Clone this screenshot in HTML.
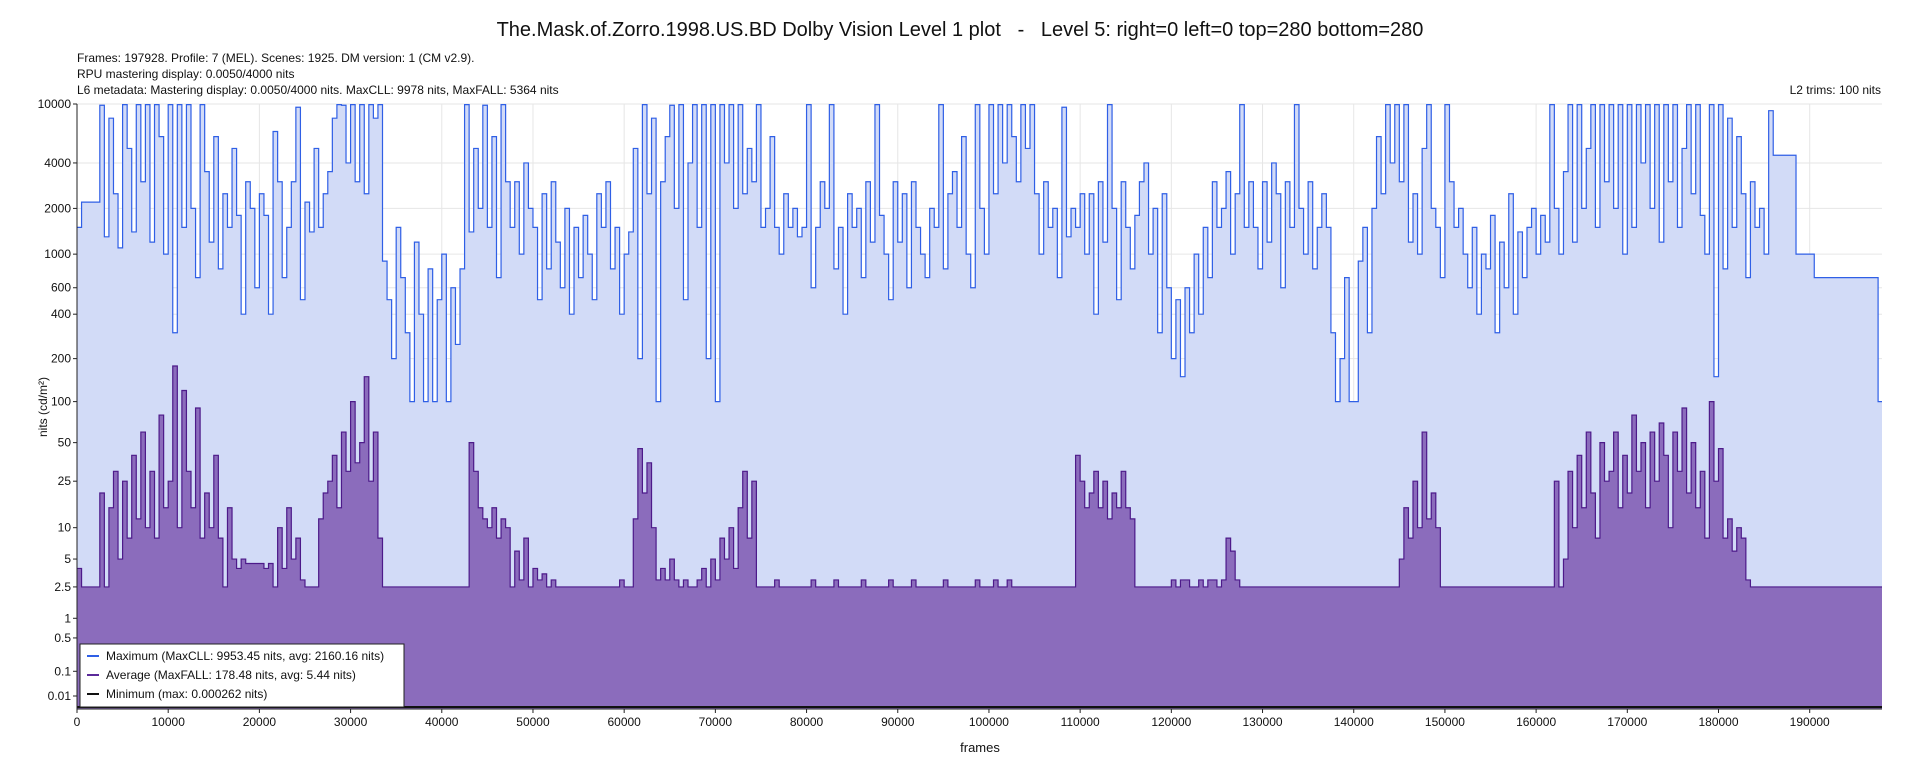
<!DOCTYPE html>
<html><head><meta charset="utf-8">
<style>
body{margin:0;background:#fff;width:1920px;height:768px;overflow:hidden;font-family:"Liberation Sans",Arial,sans-serif}
svg{display:block}
text{font-family:"Liberation Sans",Arial,sans-serif;fill:#111}
</style></head>
<body>
<svg id="chart" width="1920" height="768" viewBox="0 0 1920 768" xmlns="http://www.w3.org/2000/svg">
<text x="960" y="36" text-anchor="middle" font-size="20" style="white-space:pre">The.Mask.of.Zorro.1998.US.BD Dolby Vision Level 1 plot   -   Level 5: right=0 left=0 top=280 bottom=280</text>
<text x="77" y="62" font-size="12">Frames: 197928. Profile: 7 (MEL). Scenes: 1925. DM version: 1 (CM v2.9).</text>
<text x="77" y="78" font-size="12">RPU mastering display: 0.0050/4000 nits</text>
<text x="77" y="94" font-size="12">L6 metadata: Mastering display: 0.0050/4000 nits. MaxCLL: 9978 nits, MaxFALL: 5364 nits</text>
<text x="1881" y="94" font-size="12" text-anchor="end">L2 trims: 100 nits</text>
<g id="plot"></g>
<text transform="translate(47,407) rotate(-90)" text-anchor="middle" font-size="12">nits (cd/m²)</text>
<text x="980" y="752" text-anchor="middle" font-size="13">frames</text>
<g>
<rect x="80" y="644" width="324" height="63" fill="#fff" stroke="#222" stroke-width="1"/>
<line x1="87" y1="656" x2="99" y2="656" stroke="#2f5fe6" stroke-width="2"/>
<text x="106" y="660" font-size="12">Maximum (MaxCLL: 9953.45 nits, avg: 2160.16 nits)</text>
<line x1="87" y1="675" x2="99" y2="675" stroke="#5b2a9a" stroke-width="2"/>
<text x="106" y="679" font-size="12">Average (MaxFALL: 178.48 nits, avg: 5.44 nits)</text>
<line x1="87" y1="694" x2="99" y2="694" stroke="#111" stroke-width="2"/>
<text x="106" y="698" font-size="12">Minimum (max: 0.000262 nits)</text>
</g>
</svg>
<script>
const totalFrames = 197928;
const segmentFrames = 500;
const yTicks = [0.01,0.1,0.5,1,2.5,5,10,25,50,100,200,400,600,1000,2000,4000,10000];
const yTickLabels = ["0.01","0.1","0.5","1","2.5","5","10","25","50","100","200","400","600","1000","2000","4000","10000"];
const xTicks = [0,10000,20000,30000,40000,50000,60000,70000,80000,90000,100000,110000,120000,130000,140000,150000,160000,170000,180000,190000];
const maxVals = [
1500,2200,2200,2200,2200,9800,1300,8000,2500,1100,9900,5000,1400,9900,3000,9900,1200,9900,6000,1000,
9900,300,9900,1500,9900,2000,700,9900,3500,1200,6000,800,2500,1500,5000,1800,400,3000,2000,600,
2500,1800,400,6500,3000,700,1500,3000,9500,500,2200,1400,5000,1500,2500,3500,8000,9900,9800,4000,
9900,3000,9900,2500,9900,8000,9900,900,500,200,1500,700,300,100,1200,400,100,800,100,500,
1000,100,600,250,800,9900,1400,5000,2000,9800,1500,6000,700,9900,3000,1500,3000,1000,4000,2000,
1500,500,2500,800,3000,1200,600,2000,400,1500,700,1800,1000,500,2500,1500,3000,800,1500,400,
1000,1400,5000,200,9900,2500,8000,100,3000,6000,9800,2000,9900,500,4000,9900,1500,9900,200,9900,
100,9900,4000,9900,2000,9900,2500,5000,3000,9900,1500,2000,6000,1500,1000,2500,1500,2000,1300,1500,
9900,600,1500,3000,2000,9900,800,1500,400,2500,1500,2000,700,3000,1200,9900,1800,1000,500,3000,
1200,2500,600,3000,1500,1000,700,2000,1500,9900,800,2500,3500,1500,6000,1000,600,9900,2000,1000,
9900,2500,9900,4000,9900,6000,3000,9900,5000,9900,2500,1000,3000,1500,2000,700,9500,1300,2000,1500,
2500,1000,2500,400,3000,1200,9900,2000,500,3000,1500,800,1800,3000,4000,1000,2000,300,2500,600,
200,500,150,600,300,1000,400,1500,700,3000,1500,2000,3500,1000,2500,9900,1500,3000,1500,800,
3000,1200,4000,2500,600,3000,1500,9900,2000,1000,3000,800,1500,2500,1500,300,100,200,700,100,
100,900,1500,300,2000,6000,2500,9900,4000,9900,3000,9900,1200,2500,1000,5000,9900,2000,1500,700,
9900,3000,1500,2000,1000,600,1500,400,1000,800,1800,300,1200,600,2500,400,1400,700,1500,2000,
1000,1800,1200,9900,2000,1000,3500,9900,1200,9900,2000,5000,9900,1500,9900,3000,9900,2000,9900,1000,
9900,1500,9900,4000,9900,2000,9900,1200,9900,3000,9900,1500,5000,9900,2500,9900,1800,1000,9900,150,
9900,800,8000,1500,6000,2500,700,3000,1500,2000,1000,9000,4500,4500,4500,4500,4500,1000,1000,1000,
1000,700,700,700,700,700,700,700,700,700,700,700,700,700,700,100];
const avgVals = [
4,2.5,2.5,2.5,2.5,20,2.5,15,30,5,25,8,40,12,60,10,30,8,80,15,
25,178,10,120,30,15,90,8,20,10,40,8,2.5,15,5,4,5,4.5,4.5,4.5,
4.5,4,4.5,2.5,10,4,15,5,8,3,2.5,2.5,2.5,12,20,25,40,15,60,30,
100,35,50,150,25,60,8,2.5,2.5,2.5,2.5,2.5,2.5,2.5,2.5,2.5,2.5,2.5,2.5,2.5,
2.5,2.5,2.5,2.5,2.5,2.5,50,30,15,12,10,15,8,12,10,2.5,6,3,8,2.5,
4,3,3.5,2.5,3,2.5,2.5,2.5,2.5,2.5,2.5,2.5,2.5,2.5,2.5,2.5,2.5,2.5,2.5,3,
2.5,2.5,12,45,20,35,10,3,4,3,5,3,2.5,3,2.5,2.5,3,4,2.5,5,
3,8,5,10,4,15,30,8,25,2.5,2.5,2.5,2.5,3,2.5,2.5,2.5,2.5,2.5,2.5,
2.5,3,2.5,2.5,2.5,2.5,3,2.5,2.5,2.5,2.5,2.5,3,2.5,2.5,2.5,2.5,2.5,3,2.5,
2.5,2.5,2.5,3,2.5,2.5,2.5,2.5,2.5,2.5,3,2.5,2.5,2.5,2.5,2.5,2.5,3,2.5,2.5,
2.5,3,2.5,2.5,3,2.5,2.5,2.5,2.5,2.5,2.5,2.5,2.5,2.5,2.5,2.5,2.5,2.5,2.5,40,
25,15,20,30,15,25,12,20,15,30,15,12,2.5,2.5,2.5,2.5,2.5,2.5,2.5,2.5,
3,2.5,3,3,2.5,2.5,3,2.5,3,3,2.5,3,8,6,3,2.5,2.5,2.5,2.5,2.5,
2.5,2.5,2.5,2.5,2.5,2.5,2.5,2.5,2.5,2.5,2.5,2.5,2.5,2.5,2.5,2.5,2.5,2.5,2.5,2.5,
2.5,2.5,2.5,2.5,2.5,2.5,2.5,2.5,2.5,2.5,5,15,8,25,10,60,12,20,10,2.5,
2.5,2.5,2.5,2.5,2.5,2.5,2.5,2.5,2.5,2.5,2.5,2.5,2.5,2.5,2.5,2.5,2.5,2.5,2.5,2.5,
2.5,2.5,2.5,2.5,25,2.5,5,30,10,40,15,60,20,8,50,25,30,60,15,40,
20,80,30,50,15,60,25,70,40,10,60,30,90,20,50,15,30,8,100,25,
45,8,12,6,10,8,3,2.5,2.5,2.5,2.5,2.5,2.5,2.5,2.5,2.5,2.5,2.5,2.5,2.5,
2.5,2.5,2.5,2.5,2.5,2.5,2.5,2.5,2.5,2.5,2.5,2.5,2.5,2.5,2.5,2.5];
const minVals = [0.0001];

const L=77,R=1882,T=104,B=709;
function pq(n){const m1=0.1593017578125,m2=78.84375,c1=0.8359375,c2=18.8515625,c3=18.6875;
 const y=Math.pow(Math.max(n,0)/10000,m1);return Math.pow((c1+c2*y)/(1+c3*y),m2);}
function xs(f){return L+(f/totalFrames)*(R-L);}
function ys(v){return B-pq(v)*(B-T);}
const NS="http://www.w3.org/2000/svg";
const g=document.getElementById('plot');
function mk(tag,attrs){const e=document.createElementNS(NS,tag);for(const k in attrs)e.setAttribute(k,attrs[k]);g.appendChild(e);return e;}

yTicks.forEach((v,i)=>{
 const yy=ys(v);
 const gl=mk('line',{x1:L,x2:R,y1:yy,y2:yy,stroke:'#e6e6e6','stroke-width':1});
 
 
});
xTicks.forEach(f=>{
 const xx=xs(f);
 const gl=mk('line',{x1:xx,x2:xx,y1:T,y2:B,stroke:'#e6e6e6','stroke-width':1});
 
 
});

function stepPath(vals){
 let d='M'+xs(0)+','+ys(vals[0]);
 for(let i=0;i<vals.length;i++){
  const f0=i*segmentFrames,f1=Math.min((i+1)*segmentFrames,totalFrames);
  d+=' L'+xs(f0)+','+ys(vals[i])+' L'+xs(f1)+','+ys(vals[i]);
 }
 return d;
}
const maxLine=stepPath(maxVals);
const maxFill=mk('path',{d:maxLine+' L'+R+','+B+' L'+L+','+B+' Z',fill:'#d2dbf7',stroke:'none'});


const maxPath=mk('path',{d:maxLine,fill:'none',stroke:'#2f5fe6','stroke-width':1.2});



const avgLine=stepPath(avgVals);
const avgFill=mk('path',{d:avgLine+' L'+R+','+B+' L'+L+','+B+' Z',fill:'#8b6cbc',stroke:'none'});


const avgPath=mk('path',{d:avgLine,fill:'none',stroke:'#4d1a8a','stroke-width':1.2});



const minPath=mk('line',{x1:L,x2:R,y1:ys(minVals[0])-1,y2:ys(minVals[0])-1,stroke:'#111','stroke-width':2});



const ax=mk('line',{x1:L,x2:L,y1:T,y2:B,stroke:'#222','stroke-width':1});


const bx=mk('line',{x1:L,x2:R,y1:B,y2:B,stroke:'#222','stroke-width':1});



yTicks.forEach((v,i)=>{
 const yy=ys(v);
 const tk=mk('line',{x1:L-4,x2:L,y1:yy,y2:yy,stroke:'#222'});
 
 
 const t=mk('text',{x:L-6,y:yy+4,'text-anchor':'end','font-size':12});
 
 
 t.textContent=yTickLabels[i];
});
xTicks.forEach(f=>{
 const xx=xs(f);
 const tk=mk('line',{x1:xx,x2:xx,y1:B,y2:B+4,stroke:'#222'});
 
 
 const t=mk('text',{x:xx,y:B+17,'text-anchor':'middle','font-size':12});
 
 
 t.textContent=String(f);
});
</script>
</body></html>
